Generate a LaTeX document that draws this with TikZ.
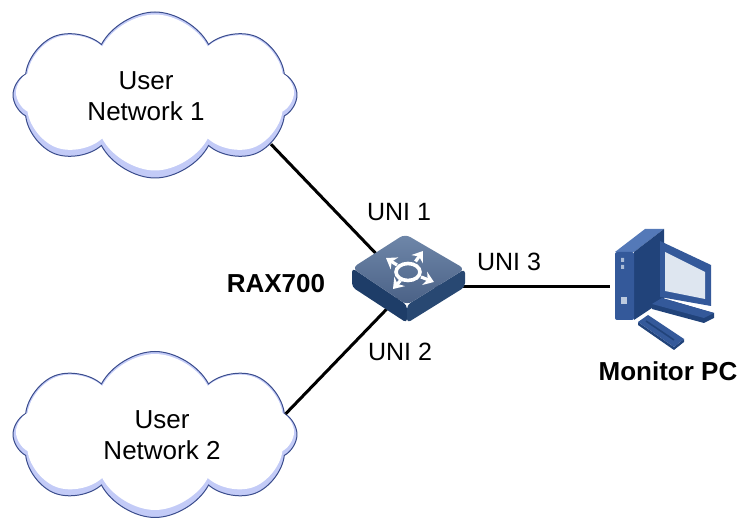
\documentclass[tikz,border=0pt]{standalone}
\usepackage{fontspec}
\setmainfont{Liberation Sans}
\usetikzlibrary{arrows.meta,shapes.symbols}

\definecolor{cloudrim}{HTML}{3A4C8C}
\definecolor{cloudband}{HTML}{C3CBF7}
\definecolor{swtop}{HTML}{6F87A9}
\definecolor{swtopdark}{HTML}{4A6186}
\definecolor{swleft}{HTML}{1E3D68}
\definecolor{swright}{HTML}{284872}
\definecolor{pcblue}{HTML}{34599A}
\definecolor{pclight}{HTML}{5479B8}
\definecolor{pcdark}{HTML}{21437A}
\definecolor{pcscreen}{HTML}{DEE6F0}

\begin{document}
\begin{tikzpicture}[x=0.5pt, y=-0.5pt,
    usercloud/.style={cloud, cloud puffs=8, cloud puff arc=125, cloud ignores aspect,
        fill=white, minimum width=139pt, minimum height=78pt},
    rimcloud/.style={cloud, cloud puffs=8, cloud puff arc=125, cloud ignores aspect,
        fill=cloudband, draw=cloudrim, line width=0.5pt,
        minimum width=142pt, minimum height=83pt},
    cloudtext/.style={align=center, font=\fontsize{13}{15.5}\selectfont},
    link/.style={line width=1.5pt, black},
    swarrow/.style={white, line width=1.6pt, -{Stealth[length=5pt, width=7pt]}},
    portlabel/.style={font=\fontsize{12.5}{15}\selectfont},
    devlabel/.style={font=\bfseries\fontsize{13}{15}\selectfont}]
    \useasboundingbox (0,0) rectangle (741,518);

    % user networks
    \node[rimcloud] (net1 rim) at (155,95) {};
    \node[usercloud] (net1) at (155,92.5) {};
    \node[cloudtext] (net1 text) at (146,96) {User\\Network 1};
    \node[rimcloud] (net2 rim) at (155,434.5) {};
    \node[usercloud] (net2) at (155,432) {};
    \node[cloudtext] (net2 text) at (162,435) {User\\Network 2};

    % device anchors
    \node[inner sep=0pt] (rax) at (408,287) {};
    \node[inner sep=0pt, minimum width=10pt, minimum height=35pt] (pc) at (620,287) {};

    % links
    \draw[link] (net1 rim.-23) -- (rax);
    \draw[link] (net2 rim.9) -- (rax);
    \draw[link] (rax) -- (pc.west);

    % RAX700 switch
    \begin{scope}[shift={(rax)}]
      \fill[swleft, rounded corners=2pt] (-56,-19) -- (-56,0) -- (-1,36) -- (-1,18) -- cycle;
      \fill[swright, rounded corners=2pt] (-1,18) -- (-1,36) -- (57,0) -- (57,-18) -- cycle;
      \shade[top color=swtop, bottom color=swtopdark, rounded corners=3pt]
        (-56,-19) -- (-3,-53) -- (57,-18) -- (-1,18) -- cycle;
      \draw[white, line width=1.8pt] (0,-15) ellipse [x radius=12, y radius=8.5];
      \foreach \tx/\ty in {-22/-14, 15/-21, -15/17, 26/10}
        \draw[swarrow] (0.5*\tx,0.5*\ty-15) -- (\tx,\ty-15);
    \end{scope}

    % monitor PC
    % tower
    \fill[pclight] (615,252) -- (634,252) -- (664,229) -- (645,229) -- cycle;
    \fill[pcdark] (634,252) -- (664,229) -- (664,300) -- (634,320) -- cycle;
    \fill[pcblue, rounded corners=1pt] (615,252) rectangle (634,320);
    \fill[pcscreen!70!pcblue] (621,258) rectangle (624,262) (621,265) rectangle (624,269);
    \fill[pcscreen!80!pcblue] (621,297) rectangle (627,304);
    % stand and base
    \fill[pcdark] (652,304) -- (662,298) -- (714,313) -- (714,318) -- (704,323) -- (652,309) -- cycle;
    \fill[pcblue] (652,304) -- (662,298) -- (714,313) -- (704,318) -- cycle;
    % screen
    \fill[pcdark] (653,245) -- (660,241) -- (660,297) -- (653,300) -- cycle;
    \fill[pcblue] (660,241) -- (711,265) -- (711,306) -- (660,297) -- cycle;
    \fill[pcscreen] (665,252) -- (705,272) -- (705,299) -- (665,291) -- cycle;
    % keyboard
    \fill[pcdark] (638,322) -- (674,347) -- (684,339) -- (684,342) -- (674,350) -- (638,325) -- cycle;
    \fill[pcblue] (638,322) -- (648,315) -- (684,339) -- (674,347) -- cycle;
    \draw[pcdark, line width=0.8pt] (646,321) -- (674,340);

    % labels
    \node[portlabel] (uni1) at (399,212) {UNI 1};
    \node[portlabel] (uni2) at (400,352) {UNI 2};
    \node[portlabel] (uni3) at (509,262) {UNI 3};
    \node[devlabel] (rax label) at (276,284) {RAX700};
    \node[devlabel] (pc label) at (668,371) {Monitor PC};
\end{tikzpicture}
\end{document}
